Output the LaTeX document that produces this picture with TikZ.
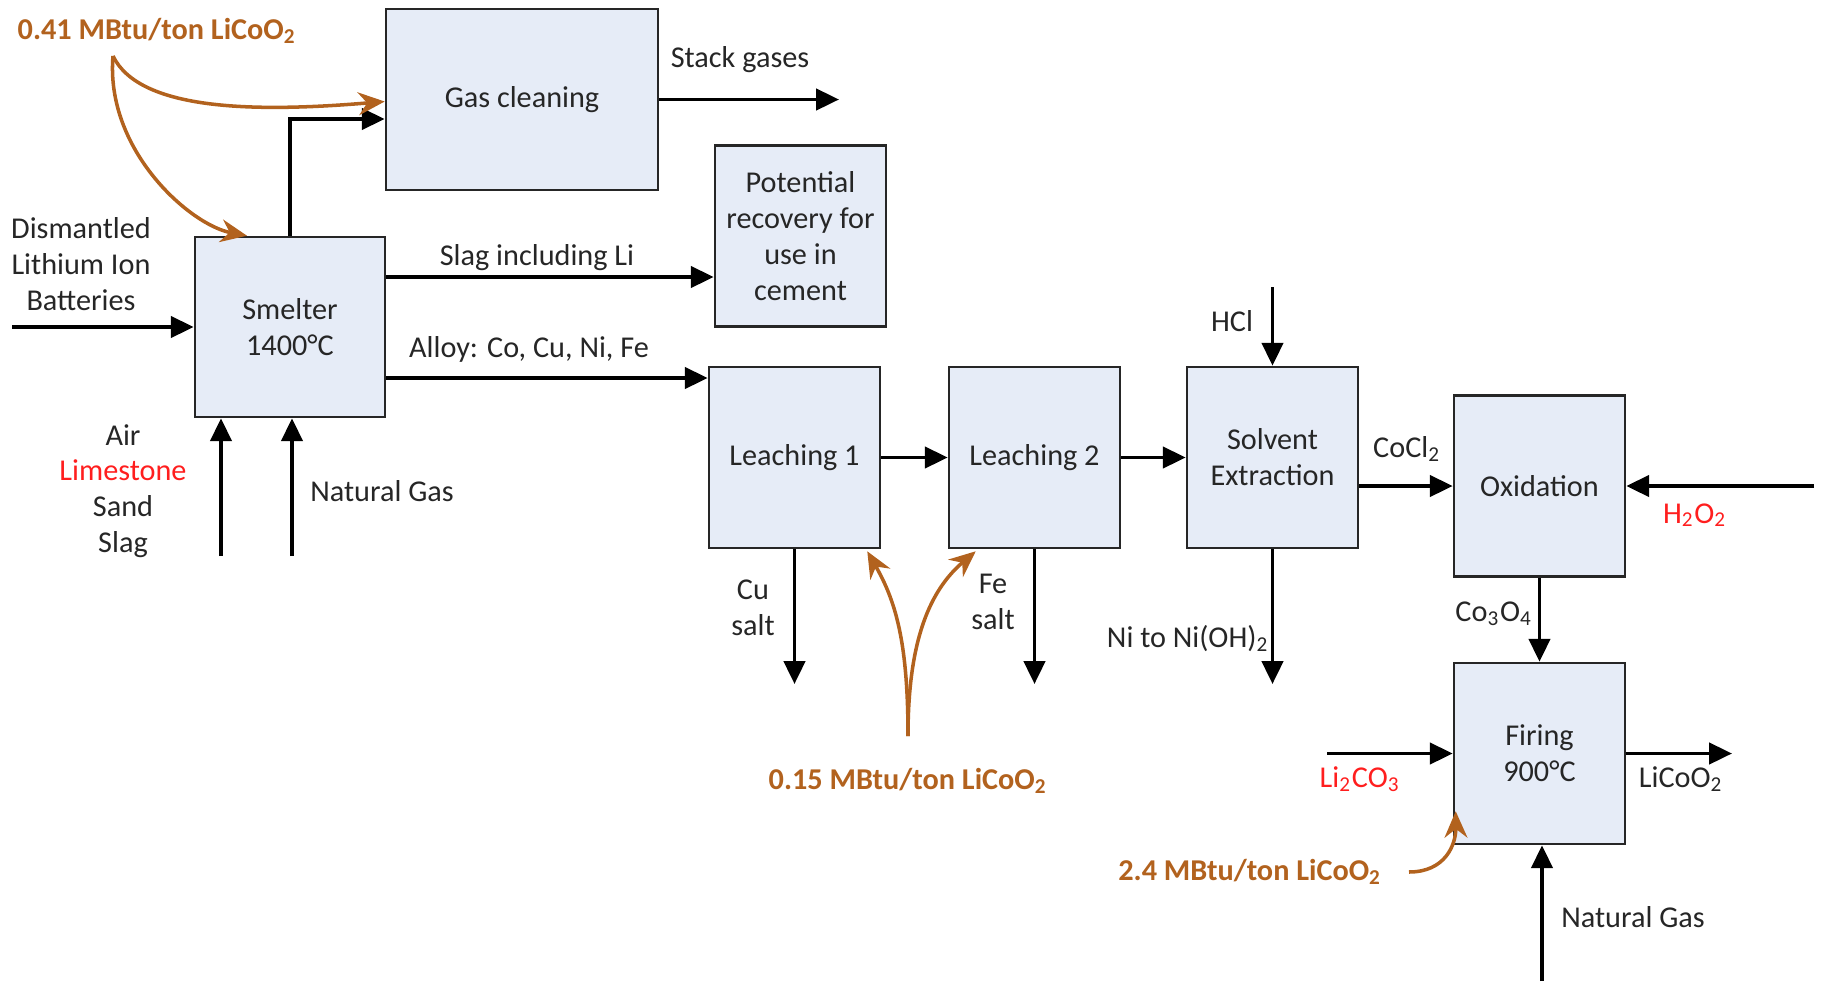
\documentclass[tikz,border=0pt]{standalone}
\usepackage{fontspec}
\setmainfont{Carlito}
\usepackage{xcolor}
\usepackage{tikz}
\usetikzlibrary{arrows.meta, positioning, calc}
\definecolor{boxfill}{RGB}{230,236,247}
\definecolor{heatbrown}{RGB}{178,98,30}
\definecolor{chemred}{RGB}{255,30,30}

\begin{document}
\begin{tikzpicture}[x=0.01cm, y=-0.01cm,
  every node/.style={font=\fontsize{8.6}{10.2}\selectfont, text=black!85},
  box/.style={draw=black!85, fill=boxfill, line width=0.7pt, minimum width=1.71cm,
    minimum height=1.81cm, align=center, inner sep=1pt},
  flow/.style={draw=black, line width=1.1pt, -{Triangle[length=6.5pt,width=6pt]}},
  heat/.style={draw=heatbrown, line width=1pt, -{Stealth[length=7.5pt,width=6.5pt,inset=2.5pt]}},
  heatlbl/.style={text=heatbrown, font=\fontsize{8.6}{10.2}\selectfont\bfseries},
  lbl/.style={align=center}]

  \useasboundingbox (0,0) rectangle (1823,981);

  % Process boxes
  \node[box, minimum width=2.72cm] (gas) at (522,99.5) {Gas cleaning};
  \node[box, minimum width=1.90cm, minimum height=1.80cm] (smelter) at (290,327) {Smelter\\1400°C};
  \node[box] (potential) at (800.5,236) {Potential\\recovery for\\use in\\cement};
  \node[box] (leach1) at (794.5,457.5) {Leaching 1};
  \node[box] (leach2) at (1034.5,457.5) {Leaching 2};
  \node[box] (solvent) at (1272.5,457.5) {Solvent\\Extraction};
  \node[box] (oxid) at (1539.5,486) {Oxidation};
  \node[box] (firing) at (1539.5,753.5) {Firing\\900°C};

  % Free ends of the streams
  \coordinate (stackEnd) at (839,100);
  \coordinate (slagY) at (0,277);
  \coordinate (alloyY) at (0,378);
  \coordinate (battIn) at (12,327);
  \coordinate (airIn) at (221,556);
  \coordinate (gasIn) at (292,556);
  \coordinate (hclIn) at (1272.5,287);
  \coordinate (h2o2In) at (1814,486);
  \coordinate (cuOut) at (794.5,684);
  \coordinate (feOut) at (1034.5,684);
  \coordinate (niOut) at (1272.5,684);
  \coordinate (li2co3In) at (1327,753.5);
  \coordinate (licoo2Out) at (1732,753.5);
  \coordinate (ngIn) at (1542,981);

  % Main streams
  \draw[flow] (gas.east) -- (gas.east -| stackEnd);
  \draw[flow] (smelter.north) |- ($(gas.west)+(0,19.5)$);
  \draw[flow] (smelter.east |- slagY) -- (potential.west |- slagY);
  \draw[flow] (smelter.east |- alloyY) -- (leach1.west |- alloyY);
  \draw[flow] (battIn) -- (smelter.west);
  \draw[flow] (airIn) -- (smelter.south -| airIn);
  \draw[flow] (gasIn) -- (smelter.south -| gasIn);
  \draw[flow] (leach1.east) -- (leach2.west);
  \draw[flow] (leach2.east) -- (solvent.west);
  \draw[flow] (hclIn) -- (solvent.north);
  \draw[flow] (solvent.east |- oxid) -- (oxid.west);
  \draw[flow] (h2o2In) -- (oxid.east);
  \draw[flow] (oxid.south) -- (firing.north);
  \draw[flow] (leach1.south) -- (cuOut);
  \draw[flow] (leach2.south) -- (feOut);
  \draw[flow] (solvent.south) -- (niOut);
  \draw[flow] (li2co3In) -- (firing.west);
  \draw[flow] (firing.east) -- (licoo2Out);
  \draw[flow] (ngIn) -- (firing.south -| ngIn);

  % Stream labels
  \node (stackLbl) at (740,60) {Stack gases};
  \node (slagLbl) at (537,258) {Slag including Li};
  \node (alloyLbl) at (529,349) {Alloy: Co, Cu, Ni, Fe};
  \node[lbl] (battLbl) at (81,264) {Dismantled\\Lithium Ion\\Batteries};
  \node[lbl] (airLbl) at (123,491) {Air\\\textcolor{chemred}{Limestone}\\Sand\\Slag};
  \node (ngLblA) at (382,491) {Natural Gas};
  \node (hclLbl) at (1232,321) {HCl};
  \node (cocl2Lbl) at (1407,449) {CoCl\textsubscript{2}};
  \node[text=chemred] (h2o2Lbl) at (1695,515) {H\textsubscript{2}O\textsubscript{2}};
  \node (co3o4Lbl) at (1494,614) {Co\textsubscript{3}O\textsubscript{4}};
  \node[text=chemred] (li2co3Lbl) at (1360,779) {Li\textsubscript{2}CO\textsubscript{3}};
  \node (licoo2Lbl) at (1681,779) {LiCoO\textsubscript{2}};
  \node (ngLblB) at (1633,917) {Natural Gas};
  \node[lbl] (cuLbl) at (753,608) {Cu\\salt};
  \node[lbl] (feLbl) at (993,602) {Fe\\salt};
  \node (niLbl) at (1188,639) {Ni to Ni(OH)\textsubscript{2}};

  % Energy inputs
  \node[heatlbl] (heatA) at (157,31) {0.41 MBtu/ton LiCoO\textsubscript{2}};
  \node[heatlbl] (heatB) at (908,781) {0.15 MBtu/ton LiCoO\textsubscript{2}};
  \node[heatlbl] (heatC) at (1250,872) {2.4 MBtu/ton LiCoO\textsubscript{2}};
  \coordinate (heatAfoot) at (113,56);
  \coordinate (heatBfoot) at (908,736);
  \coordinate (heatCfoot) at (1409,872);
  \draw[heat] (heatAfoot) .. controls (140,112) and (260,112) .. ($(gas.west)+(0,2)$);
  \draw[heat] (heatAfoot) .. controls (105,150) and (190,225) .. ($(smelter.north)+(-43,0)$);
  \draw[heat] (heatBfoot) .. controls (908,640) and (895,600) .. ($(leach1.south east)+(-14,2)$);
  \draw[heat] (heatBfoot) .. controls (908,640) and (930,590) .. ($(leach2.south west)+(28,2)$);
  \draw[heat] (heatCfoot) .. controls (1445,872) and (1456,845) .. ($(firing.south west)+(3,-34)$);
\end{tikzpicture}
\end{document}
